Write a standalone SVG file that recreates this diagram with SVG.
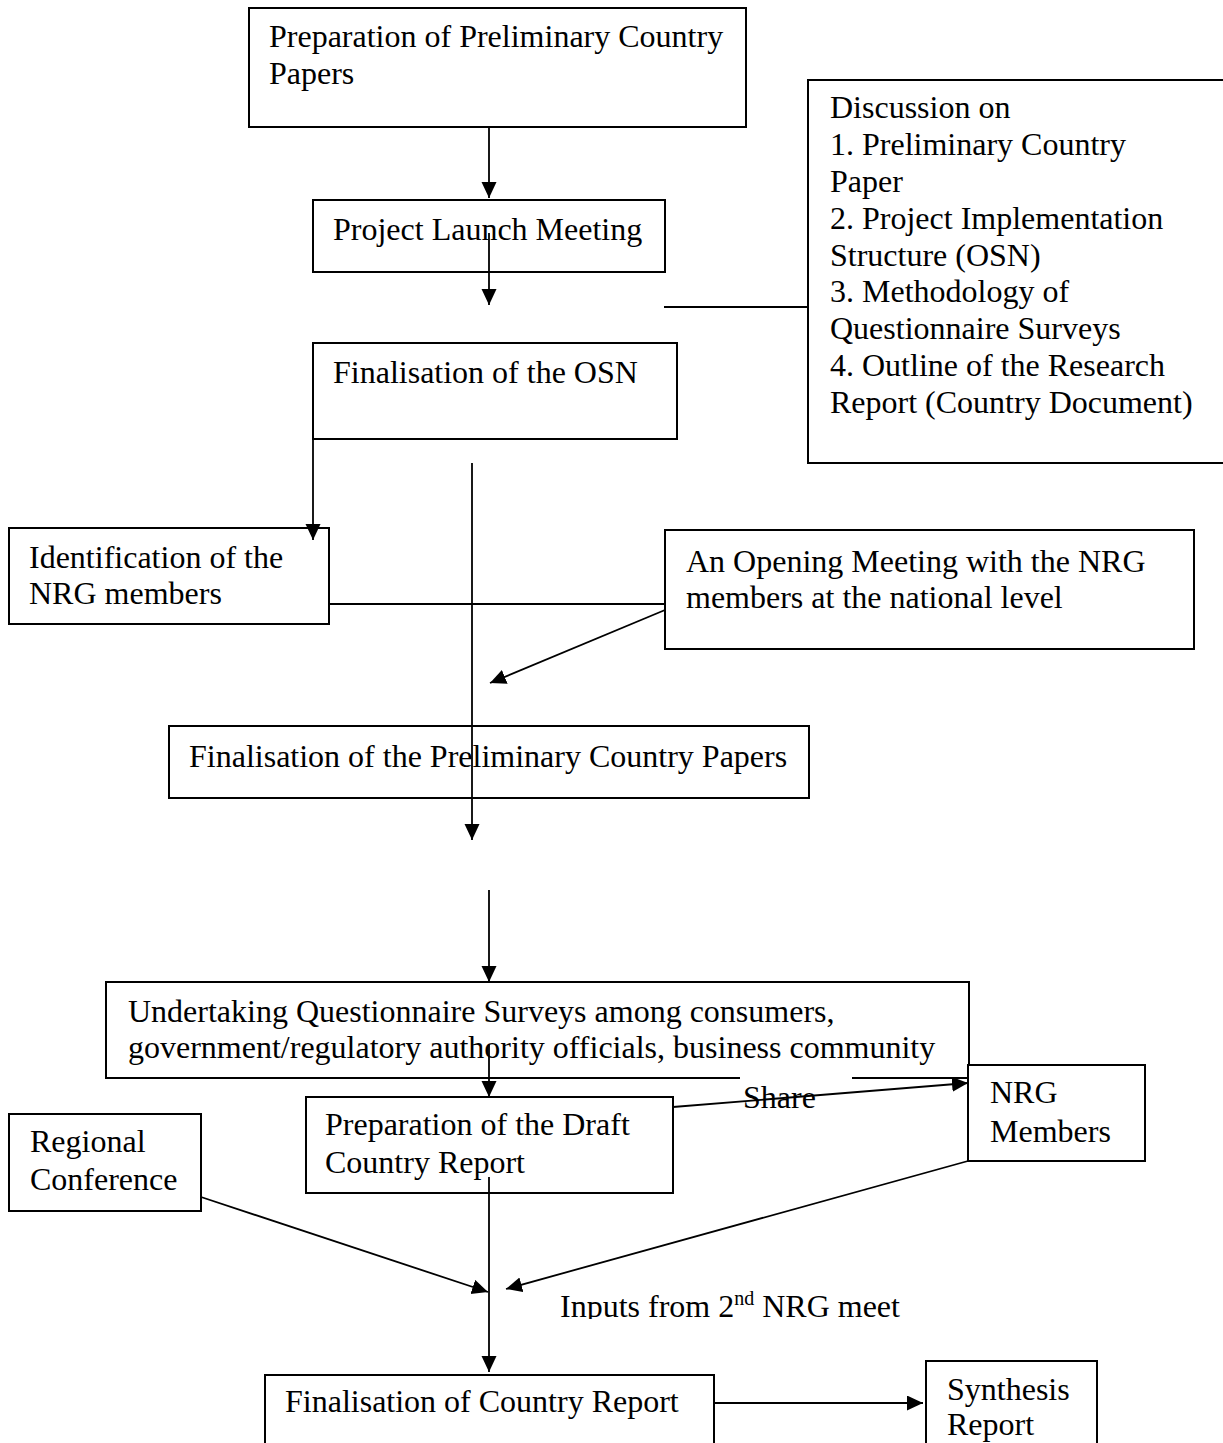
<svg xmlns="http://www.w3.org/2000/svg" width="1223" height="1443" viewBox="0 0 1223 1443">
<style>
.box{fill:#fff;stroke:#000;stroke-width:2}
.t{font-family:"Liberation Serif","Times New Roman",serif;font-size:32px;fill:#000}
.c{fill:none;stroke:#000;stroke-width:1.8}
</style>
<defs>
<marker id="ah" markerUnits="userSpaceOnUse" markerWidth="18" markerHeight="16" refX="16" refY="7.5" orient="auto">
<path d="M0,0 L16,7.5 L0,15 z" fill="#000"/>
</marker>
<clipPath id="clipInputs"><rect x="540" y="1270" width="400" height="49"/></clipPath>
</defs>
<rect width="1223" height="1443" fill="#fff"/>

<g id="n-prep-prelim">
<rect class="box" x="249" y="8" width="497" height="119"/>
<text class="t" x="269" y="47">Preparation of Preliminary Country</text>
<text class="t" x="269" y="84">Papers</text>
</g>
<g id="n-launch">
<rect class="box" x="313" y="200" width="352" height="72"/>
<text class="t" x="333" y="240">Project Launch Meeting</text>
</g>
<g id="n-discussion">
<rect class="box" x="808" y="80" width="432" height="383"/>
<text class="t" x="830" y="118">Discussion on</text>
<text class="t" x="830" y="155">1. Preliminary Country</text>
<text class="t" x="830" y="192">Paper</text>
<text class="t" x="830" y="229">2. Project Implementation</text>
<text class="t" x="830" y="266">Structure (OSN)</text>
<text class="t" x="830" y="302">3. Methodology of</text>
<text class="t" x="830" y="339">Questionnaire Surveys</text>
<text class="t" x="830" y="376">4. Outline of the Research</text>
<text class="t" x="830" y="413">Report (Country Document)</text>
</g>
<g id="n-osn">
<rect class="box" x="313" y="343" width="364" height="96"/>
<text class="t" x="333" y="383">Finalisation of the OSN</text>
</g>
<g id="n-ident">
<rect class="box" x="9" y="528" width="320" height="96"/>
<text class="t" x="29" y="568">Identification of the</text>
<text class="t" x="29" y="604">NRG members</text>
</g>
<g id="n-opening">
<rect class="box" x="665" y="530" width="529" height="119"/>
<text class="t" x="686" y="572">An Opening Meeting with the NRG</text>
<text class="t" x="686" y="608">members at the national level</text>
</g>
<g id="n-final-prelim">
<rect class="box" x="169" y="726" width="640" height="72"/>
<text class="t" x="189" y="767">Finalisation of the Preliminary Country Papers</text>
</g>
<g id="n-survey">
<rect class="box" x="106" y="982" width="863" height="96"/>
<text class="t" x="128" y="1022">Undertaking Questionnaire Surveys among consumers,</text>
<text class="t" x="128" y="1058">government/regulatory authority officials, business community</text>
</g>
<g id="n-draft">
<rect class="box" x="306" y="1097" width="367" height="96"/>
<text class="t" x="325" y="1135">Preparation of the Draft</text>
<text class="t" x="325" y="1173">Country Report</text>
</g>
<g id="n-nrg">
<rect class="box" x="968" y="1065" width="177" height="96"/>
<text class="t" x="990" y="1103">NRG</text>
<text class="t" x="990" y="1142">Members</text>
</g>
<g id="n-regional">
<rect class="box" x="9" y="1114" width="192" height="97"/>
<text class="t" x="30" y="1152">Regional</text>
<text class="t" x="30" y="1190">Conference</text>
</g>
<g id="n-final-report">
<rect class="box" x="265" y="1375" width="449" height="90"/>
<text class="t" x="285" y="1412">Finalisation of Country Report</text>
</g>
<g id="n-synthesis">
<rect class="box" x="926" y="1361" width="171" height="100"/>
<text class="t" x="947" y="1400">Synthesis</text>
<text class="t" x="947" y="1435">Report</text>
</g>

<g id="connectors">
<line class="c" x1="489" y1="127" x2="489" y2="198" marker-end="url(#ah)"/>
<line class="c" x1="489" y1="233" x2="489" y2="305" marker-end="url(#ah)"/>
<line class="c" x1="664" y1="307" x2="808" y2="307"/>
<line class="c" x1="313" y1="439" x2="313" y2="540" marker-end="url(#ah)"/>
<line class="c" x1="472" y1="463" x2="472" y2="840" marker-end="url(#ah)"/>
<line class="c" x1="329" y1="604" x2="665" y2="604"/>
<line class="c" x1="665" y1="610" x2="490" y2="683" marker-end="url(#ah)"/>
<line class="c" x1="489" y1="890" x2="489" y2="982" marker-end="url(#ah)"/>
<line class="c" x1="489" y1="1045" x2="489" y2="1097" marker-end="url(#ah)"/>
<g id="share-label">
<rect x="740" y="1070" width="112" height="42" fill="#fff"/>
<text class="t" x="743" y="1108">Share</text>
</g>
<line class="c" x1="673" y1="1107" x2="968" y2="1083" marker-end="url(#ah)"/>
<line class="c" x1="489" y1="1177" x2="489" y2="1372" marker-end="url(#ah)"/>
<line class="c" x1="201" y1="1197" x2="488" y2="1292" marker-end="url(#ah)"/>
<line class="c" x1="968" y1="1161" x2="506" y2="1289" marker-end="url(#ah)"/>
<line class="c" x1="715" y1="1403" x2="923" y2="1403" marker-end="url(#ah)"/>
<text class="t" x="560" y="1317" clip-path="url(#clipInputs)">Inputs from 2<tspan font-size="20" dy="-12">nd</tspan><tspan dy="12"> NRG meet</tspan></text>
</g>
</svg>
